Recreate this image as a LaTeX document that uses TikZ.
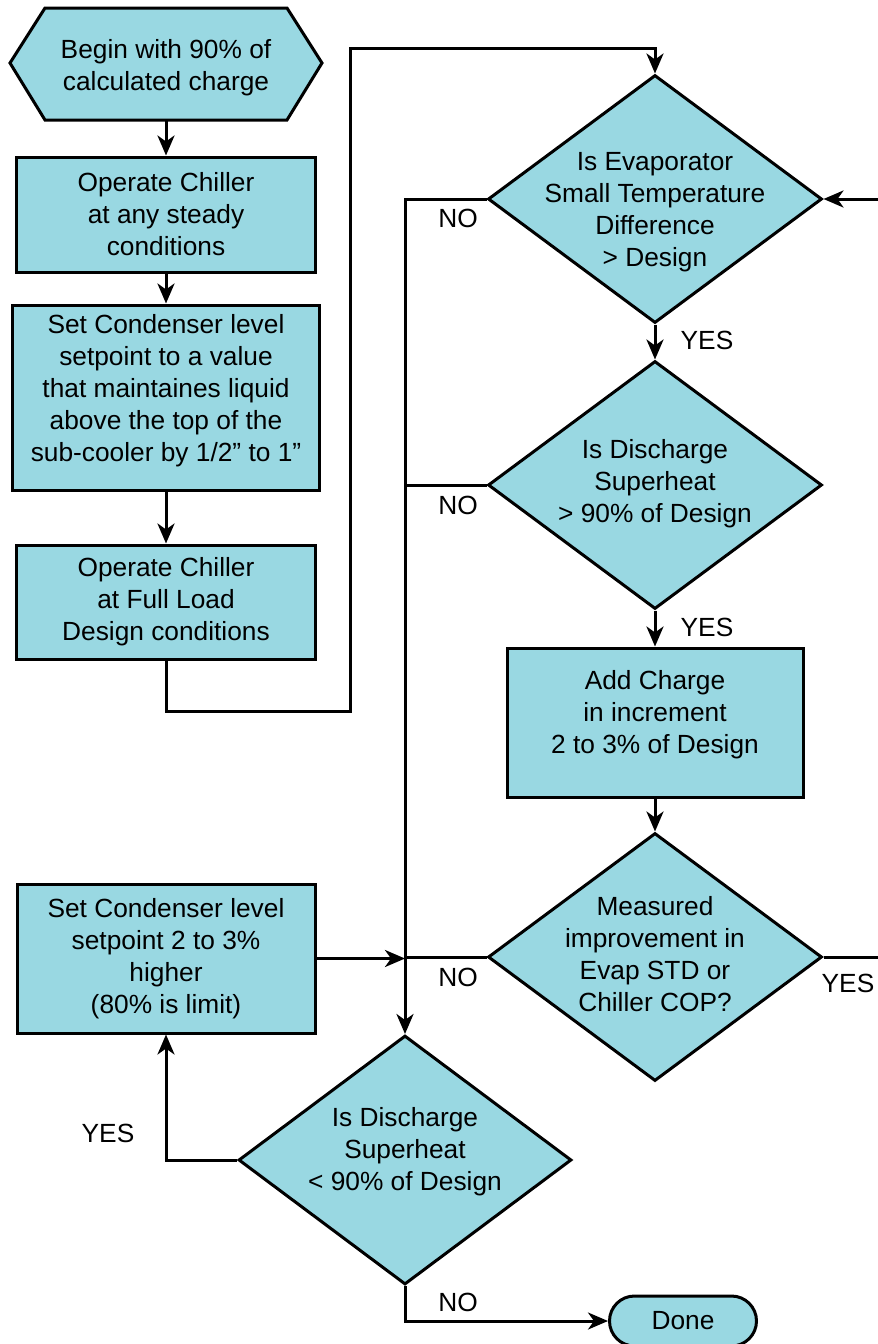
\documentclass[tikz,border=0pt]{standalone}
\usepackage{fontspec}
\setmainfont{Liberation Sans}
\usetikzlibrary{shapes.geometric,arrows.meta}

\definecolor{boxfill}{HTML}{99D8E2}

\tikzset{
  every node/.style={font=\fontsize{26.3}{32}\selectfont},
  flow/.style={line width=3pt, draw=black, fill=boxfill},
  stepbox/.style={flow, rectangle, align=center, inner sep=0pt},
  decision/.style={flow, diamond, inner sep=0pt, minimum width=334pt, minimum height=248pt},
  dtext/.style={align=center, inner sep=0pt},
  endbox/.style={flow, rectangle, rounded corners=25pt, minimum width=147pt, minimum height=50pt},
  wire/.style={line width=3pt, draw=black},
  arr/.style={wire, -{Stealth[length=20pt,width=17pt,inset=6pt]}},
  tag/.style={inner sep=0pt}
}

\begin{document}
\begin{tikzpicture}[x=1pt,y=-1pt]
\useasboundingbox (0,0) rectangle (878,1344);
\clip (0,0) rectangle (878,1344);

% start hexagon
\filldraw[flow] (10,63) -- (45,8) -- (287,8) -- (322,63) -- (287,120) -- (45,120) -- cycle;
\node[minimum height=112pt, inner sep=0pt,
  label={[dtext, yshift=-4pt]center:Begin with 90\% of\\calculated charge}] (start) at (166,64) {};

% left column
\node[stepbox, minimum width=299pt, minimum height=115pt] (b1) at (166,214.5)
  {Operate Chiller\\at any steady\\conditions};
\node[stepbox, minimum width=307pt, minimum height=185pt,
  label={[dtext, yshift=7pt]center:Set Condenser level\\setpoint to a value\\that maintaines liquid\\above the top of the\\sub-cooler by 1/2'' to 1''}] (b2) at (166,397.5) {};
\node[stepbox, minimum width=299pt, minimum height=114pt] (b3) at (166,602)
  {Operate Chiller\\at Full Load\\Design conditions};
\node[stepbox, minimum width=298pt, minimum height=149pt] (b4) at (166,958.5)
  {Set Condenser level\\setpoint 2 to 3\%\\higher\\(80\% is limit)};

% right column
\node[decision] (d1) at (655,199) {};
\node[dtext] at (655,212) {Is Evaporator\\Small Temperature\\Difference\\> Design};
\node[decision] (d2) at (655,485) {};
\node[dtext] at (655,484) {Is Discharge\\Superheat\\> 90\% of Design};
\node[stepbox, minimum width=296pt, minimum height=149pt,
  label={[dtext, yshift=8pt]center:Add Charge\\in increment\\2 to 3\% of Design}] (b5) at (655,722.5) {};
\node[decision] (d3) at (655,957) {};
\node[dtext] at (655,954) {Measured\\improvement in\\Evap STD or\\Chiller COP?};
\node[decision, minimum width=333pt, minimum height=249pt] (d4) at (405,1160) {};
\node[dtext] at (405,1152) {Is Discharge\\Superheat\\< 90\% of Design};
\node[endbox] (done) at (683,1321) {Done};

% routing points
\coordinate (c1) at (350,711);
\coordinate (ctop) at (350,48);
\coordinate (lpb) at (900,957);
\coordinate (lpt) at (900,199);

% connectors
\draw[arr] (start.south) -- (b1.north);
\draw[arr] (b1.south) -- (b2.north);
\draw[arr] (b2.south) -- (b3.north);
\draw[arr] (b3.south) |- (c1) -- (ctop) -| (d1.north);
\draw[arr] (d1.west) -| (d4.north);
\draw[wire] (d2.west) -- (d2.west -| d4.north);
\draw[wire] (d3.west) -- (d3.west -| d4.north);
\draw[arr] (b4.east) -- (b4.east -| d4.north);
\draw[arr] (d1.south) -- (d2.north);
\draw[arr] (d2.south) -- (b5.north);
\draw[arr] (b5.south) -- (d3.north);
\draw[arr] (d3.east) -- (lpb) -- (lpt) -- (d1.east);
\draw[arr] (d4.west) -| (b4.south);
\draw[arr] (d4.south) |- (done.west);

% branch labels
\node[tag] at (458,218) {NO};
\node[tag] at (458,505) {NO};
\node[tag] at (458,977) {NO};
\node[tag] at (458,1302) {NO};
\node[tag] at (707,340) {YES};
\node[tag] at (707,627) {YES};
\node[tag] at (848,983) {YES};
\node[tag] at (108,1133) {YES};
\end{tikzpicture}
\end{document}
